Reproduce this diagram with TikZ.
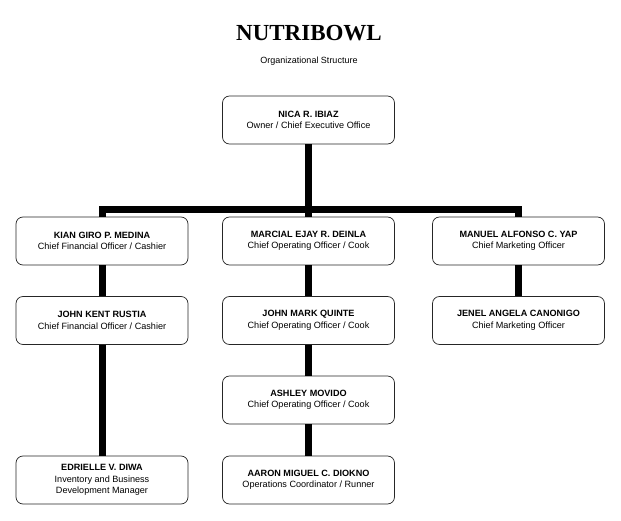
\documentclass[tikz,border=0pt]{standalone}
\usepackage{fontspec}
\setmainfont{Liberation Sans}
\newfontfamily\titlefont{Liberation Serif}
\begin{document}
\begin{tikzpicture}[x=1pt,y=-1pt,
  box/.style={draw=black!85, fill=white, rounded corners=7pt, minimum width=172pt, minimum height=48pt,
    align=center, inner sep=0pt, font=\fontsize{9.1}{11.5}\selectfont, line width=0.7pt},
  conn/.style={line width=7pt, black, line join=miter}]
\useasboundingbox (0,0) rectangle (621,521);
\node (title) at (309,33) {\titlefont\bfseries\fontsize{23}{26}\selectfont NUTRIBOWL};
\node (sub) at (309,61) {\fontsize{9}{11}\selectfont Organizational Structure};

\coordinate (bus) at (308.5,209.5);

\node[box] (ceo) at (308.5,120) {\textbf{NICA R. IBIAZ}\\Owner / Chief Executive Office};
\node[box] (kian) at (102,241) {\textbf{KIAN GIRO P. MEDINA}\\Chief Financial Officer / Cashier};
\node[box] (marcial) at (308.5,241) {\textbf{MARCIAL EJAY R. DEINLA}\\Chief Operating Officer / Cook};
\node[box] (manuel) at (518.5,241) {\textbf{MANUEL ALFONSO C. YAP}\\Chief Marketing Officer};
\node[box] (rustia) at (102,320.5) {\textbf{JOHN KENT RUSTIA}\\Chief Financial Officer / Cashier};
\node[box] (quinte) at (308.5,320.5) {\textbf{JOHN MARK QUINTE}\\Chief Operating Officer / Cook};
\node[box] (jenel) at (518.5,320.5) {\textbf{JENEL ANGELA CANONIGO}\\Chief Marketing Officer};
\node[box] (ashley) at (308.5,400) {\textbf{ASHLEY MOVIDO}\\Chief Operating Officer / Cook};
\node[box] (edrielle) at (102,480) {\textbf{EDRIELLE V. DIWA}\\Inventory and Business\\Development Manager};
\node[box] (aaron) at (308.5,480) {\textbf{AARON MIGUEL C. DIOKNO}\\Operations Coordinator / Runner};

\draw[conn] (ceo.south) -- (bus) -| (kian.north);
\draw[conn] (bus) -| (manuel.north);
\draw[conn] (bus) -- (marcial.north);
\draw[conn] (kian.south) -- (rustia.north);
\draw[conn] (rustia.south) -- (edrielle.north);
\draw[conn] (manuel.south) -- (jenel.north);
\draw[conn] (marcial.south) -- (quinte.north);
\draw[conn] (quinte.south) -- (ashley.north);
\draw[conn] (ashley.south) -- (aaron.north);
\end{tikzpicture}
\end{document}
